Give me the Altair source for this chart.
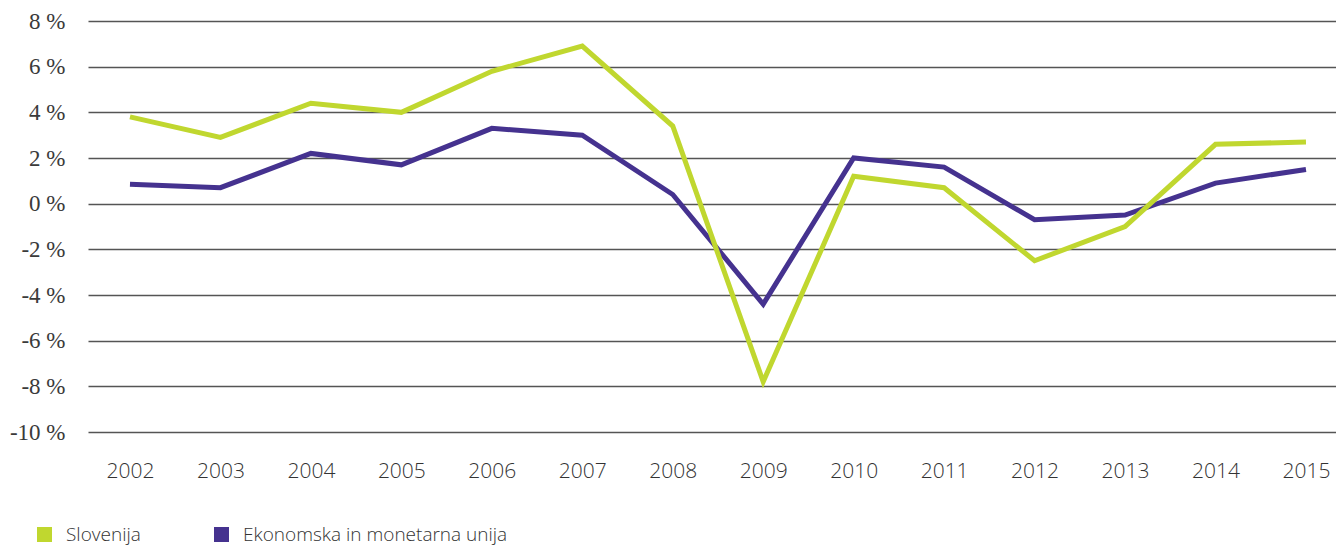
import altair as alt
import pandas as pd

years = [2002, 2003, 2004, 2005, 2006, 2007, 2008, 2009, 2010, 2011, 2012, 2013, 2014, 2015]
slovenija = [3.8, 2.9, 4.4, 4.0, 5.8, 6.9, 3.4, -7.8, 1.2, 0.7, -2.5, -1.0, 2.6, 2.7]
emu = [0.85, 0.7, 2.2, 1.7, 3.3, 3.0, 0.4, -4.4, 2.0, 1.6, -0.7, -0.5, 0.9, 1.5]
series_names = ["Slovenija", "Ekonomska in monetarna unija"]
series_colors = ["#c0d72f", "#45328f"]
y_ticks = [8, 6, 4, 2, 0, -2, -4, -6, -8, -10]

df_slo = pd.DataFrame({"leto": years, "rast": slovenija, "serija": series_names[0]})
df_emu = pd.DataFrame({"leto": years, "rast": emu, "serija": series_names[1]})

color = alt.Color(
    "serija:N",
    scale=alt.Scale(domain=series_names, range=series_colors),
    legend=alt.Legend(
        title=None,
        orient="none",
        legendX=-53,
        legendY=504,
        direction="horizontal",
        symbolType="square",
        symbolSize=1,
        symbolStrokeWidth=14,
        symbolOpacity=1,
        labelFont="Open Sans",
        labelFontWeight=300,
        labelFontSize=19,
        labelColor="#333333",
        labelOffset=12,
        columnPadding=52,
        padding=0,
        labelLimit=400,
    ),
)

x = alt.X(
    "leto:Q",
    scale=alt.Scale(domain=[2001.536, 2015.332], nice=False, zero=False),
    axis=alt.Axis(
        values=years,
        format="d",
        title=None,
        grid=False,
        domain=False,
        ticks=False,
        labelFont="Open Sans",
        labelFontWeight=300,
        labelFontSize=21,
        labelColor="#333333",
        labelPadding=28,
    ),
)

y = alt.Y(
    "rast:Q",
    scale=alt.Scale(domain=[-10, 8], nice=False),
    axis=alt.Axis(
        values=y_ticks,
        title=None,
        domain=False,
        ticks=False,
        grid=True,
        gridColor="#555555",
        gridWidth=1.5,
        gridOpacity=1,
        labelExpr="datum.value + ' %'",
        labelFont="Liberation Serif",
        labelFontSize=23,
        labelColor="#3a3a3a",
        labelPadding=23,
    ),
)

line_emu = alt.Chart(df_emu).mark_line(strokeWidth=5, strokeCap="butt", strokeJoin="miter").encode(
    x=x, y=y, color=color
)
line_slo = alt.Chart(df_slo).mark_line(strokeWidth=5, strokeCap="butt", strokeJoin="miter").encode(
    x=x, y=y, color=color
)

chart = (
    alt.layer(line_emu, line_slo)
    .properties(
        width=1248,
        height=411,
        autosize=alt.AutoSizeParams(type="none"),
        padding={"left": 80, "top": 13, "right": 0, "bottom": 115},
        view=alt.ViewBackground(stroke="transparent", strokeWidth=0, fill="white"),
    )
    .configure_view(stroke=None, strokeWidth=0, strokeOpacity=0)
    .configure_axis(domain=False, ticks=False)
    .configure_axisX(grid=False)
    .configure(background="white")
)

chart.save("out.html", embed_options={"renderer": "svg", "actions": False})
